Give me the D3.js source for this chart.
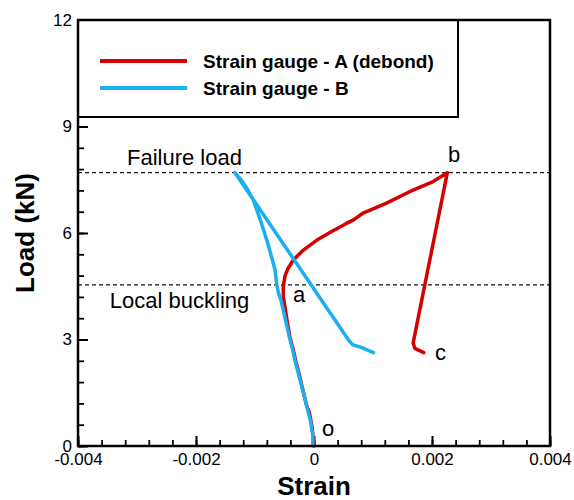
<!DOCTYPE html>
<html>
<head>
<meta charset="utf-8">
<script src="https://cdn.jsdelivr.net/npm/d3@7"></script>
<style>
  body { margin: 0; background: #fff; }
  svg { font-family: "Liberation Sans", Arial, sans-serif; }
</style>
</head>
<body>
<div id="vis-container"></div>
<script>
// strain (x 1e-3) and load (kN)
const gaugeAStrain = [0.0, -0.01, -0.02, -0.04, -0.08, -0.12, -0.19, -0.24, -0.30, -0.35, -0.41, -0.45, -0.49, -0.52, -0.52, -0.49, -0.44, -0.35, -0.18, 0.05, 0.33, 0.55, 0.67, 0.84, 1.23, 1.68, 2.02, 2.26, 1.68, 1.71, 1.86];
const gaugeALoad   = [0.0, 0.10, 0.35, 0.60, 0.95, 1.11, 1.58, 1.95, 2.33, 2.70, 3.08, 3.46, 3.90, 4.20, 4.50, 4.80, 5.00, 5.24, 5.52, 5.80, 6.07, 6.27, 6.37, 6.57, 6.84, 7.21, 7.45, 7.70, 2.90, 2.75, 2.63];

const gaugeBStrain = [-0.02, -0.02, -0.06, -0.12, -0.19, -0.25, -0.31, -0.36, -0.42, -0.47, -0.52, -0.56, -0.60, -0.63, -0.66, -0.72, -0.80, -0.89, -0.97, -1.03, -1.12, -1.23, -1.34, 0.60, 0.66, 0.80, 1.01];
const gaugeBLoad   = [0.0, 0.30, 0.70, 1.10, 1.58, 1.95, 2.33, 2.70, 3.08, 3.46, 3.83, 4.10, 4.30, 4.54, 4.96, 5.33, 5.80, 6.27, 6.65, 6.93, 7.21, 7.49, 7.70, 2.95, 2.85, 2.78, 2.63];

const seriesNames = ["Strain gauge - A (debond)", "Strain gauge - B"];
const seriesColors = ["#d40000", "#19aff0"];

const xMajor = [-0.004, -0.002, 0, 0.002, 0.004];
const yMajor = [0, 3, 6, 9, 12];

const refLoads = [7.70, 4.54]; // failure load, local buckling
const noteTexts = ["Failure load", "Local buckling", "a", "b", "c", "o"];
const noteStrain = [-0.00317, -0.00346, -0.000356, 0.00227, 0.00205, 0.000136];
const noteLoad = [7.91, 3.89, 4.06, 8.0, 2.42, 0.28];

const margin = { top: 20, right: 24, bottom: 54, left: 78 },
      width = 574 - margin.left - margin.right,
      height = 500 - margin.top - margin.bottom;

const svg = d3.select("#vis-container")
  .append("svg")
    .attr("width", 574)
    .attr("height", 500)
  .append("g")
    .attr("transform", `translate(${margin.left},${margin.top})`);

const x = d3.scaleLinear().domain([-0.004, 0.004]).range([0, width]);
const y = d3.scaleLinear().domain([0, 12]).range([height, 0]);

const seriesA = gaugeAStrain.map((s, i) => ({ strain: s / 1000, load: gaugeALoad[i] }));
const seriesB = gaugeBStrain.map((s, i) => ({ strain: s / 1000, load: gaugeBLoad[i] }));

// Minor ticks
svg.append("g")
  .attr("transform", `translate(0,${height})`)
  .call(d3.axisBottom(x).tickValues(d3.range(-0.004, 0.00401, 0.0004)).tickSize(-6).tickFormat(""))
  .call(g => g.select(".domain").remove())
  .call(g => g.selectAll("line").attr("stroke-width", 1.8));

svg.append("g")
  .call(d3.axisLeft(y).tickValues(d3.range(0, 12.01, 0.6)).tickSize(-6).tickFormat(""))
  .call(g => g.select(".domain").remove())
  .call(g => g.selectAll("line").attr("stroke-width", 1.8));

// Major ticks
svg.append("g")
  .attr("transform", `translate(0,${height})`)
  .call(d3.axisBottom(x).tickValues(xMajor).tickSize(-10).tickPadding(7)
    .tickFormat(d => d === 0 ? "0" : d3.format(".3f")(d).replace("−", "-")))
  .call(g => g.select(".domain").remove())
  .call(g => g.selectAll("line").attr("stroke-width", 2))
  .call(g => g.selectAll("text").style("font-size", "17px").attr("fill", "#000"));

svg.append("g")
  .call(d3.axisLeft(y).tickValues(yMajor).tickSize(-10).tickPadding(6))
  .call(g => g.select(".domain").remove())
  .call(g => g.selectAll("line").attr("stroke-width", 2))
  .call(g => g.selectAll("text").style("font-size", "17px").attr("fill", "#000"));

// Reference lines
svg.selectAll(".ref")
  .data(refLoads)
  .join("line")
    .attr("x1", 0)
    .attr("x2", width)
    .attr("y1", d => y(d))
    .attr("y2", d => y(d))
    .attr("stroke", "#111")
    .attr("stroke-width", 1.1)
    .attr("stroke-dasharray", "4,3");

// Curves
const line = d3.line()
  .x(d => x(d.strain))
  .y(d => y(d.load));

[seriesA, seriesB].forEach((data, i) => {
  svg.append("path")
    .datum(data)
    .attr("fill", "none")
    .attr("stroke", seriesColors[i])
    .attr("stroke-width", 3.5)
    .attr("stroke-linejoin", "round")
    .attr("stroke-linecap", "round")
    .attr("d", line);
});

// Annotations
svg.selectAll(".note")
  .data(noteTexts)
  .join("text")
    .attr("x", (d, i) => x(noteStrain[i]))
    .attr("y", (d, i) => y(noteLoad[i]))
    .style("font-size", "22px")
    .text(d => d);

// Legend
const legend = svg.append("g");
legend.append("rect")
  .attr("x", 0)
  .attr("y", 0)
  .attr("width", 380)
  .attr("height", 97)
  .attr("fill", "#fff")
  .attr("stroke", "#000")
  .attr("stroke-width", 2);

seriesNames.forEach((name, i) => {
  legend.append("line")
    .attr("x1", 22)
    .attr("x2", 109)
    .attr("y1", 41 + i * 27)
    .attr("y2", 41 + i * 27)
    .attr("stroke", seriesColors[i])
    .attr("stroke-width", 4);
  legend.append("text")
    .attr("x", 125)
    .attr("y", 48 + i * 27)
    .style("font-size", "19px")
    .style("font-weight", "bold")
    .text(name);
});

// Frame
svg.append("rect")
  .attr("width", width)
  .attr("height", height)
  .attr("fill", "none")
  .attr("stroke", "#000")
  .attr("stroke-width", 2.5);

// Axis titles
svg.append("text")
  .attr("x", width / 2)
  .attr("y", height + 49)
  .attr("text-anchor", "middle")
  .style("font-size", "26px")
  .style("font-weight", "bold")
  .text("Strain");

svg.append("text")
  .attr("transform", `translate(${34 - margin.left},${height / 2}) rotate(-90)`)
  .attr("text-anchor", "middle")
  .style("font-size", "26px")
  .style("font-weight", "bold")
  .text("Load (kN)");
</script>
</body>
</html>
